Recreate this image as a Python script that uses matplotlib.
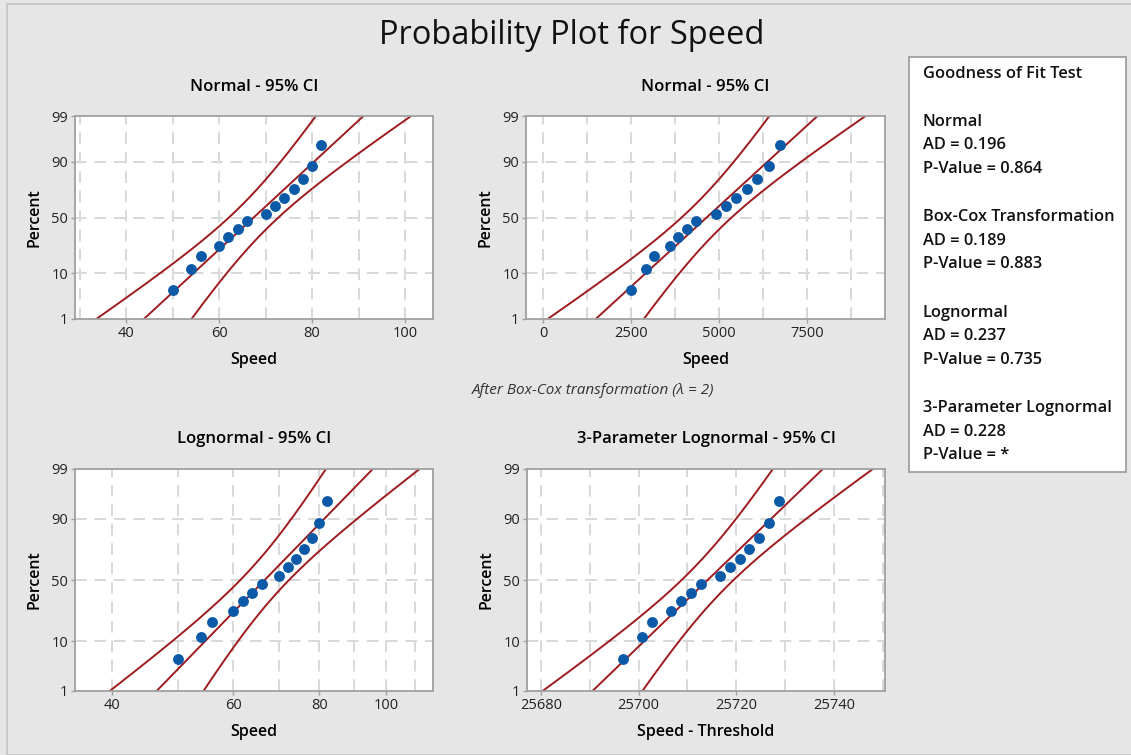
import matplotlib
matplotlib.use("Agg")
import matplotlib.pyplot as plt
import matplotlib.patches as patches
import numpy as np
from statistics import NormalDist

# valors llegits del grafic
speed = [50, 54, 56, 60, 62, 64, 66, 70, 72, 74, 76, 78, 80, 82]
speed_boxcox = [2500, 2916, 3136, 3600, 3844, 4096, 4356, 4900, 5184, 5476, 5776, 6084, 6400, 6724]
speed_thr = [25696.7, 25700.7, 25702.7, 25706.7, 25708.7, 25710.7, 25712.7,
             25716.7, 25718.7, 25720.7, 25722.7, 25724.7, 25726.7, 25728.7]

pct_ticks = [1, 10, 50, 90, 99]
pct_grid = [10, 50, 90]

gof_names = ["Normal", "Box-Cox Transformation", "Lognormal", "3-Parameter Lognormal"]
gof_ad = ["0.196", "0.189", "0.237", "0.228"]
gof_p = ["0.864", "0.883", "0.735", "*"]

W, H = 1131, 755
BG = '#E6E6E6'
RED = '#9E1B1E'
BLUE = '#0B5AA8'
SPINE = '#A0A0A0'
FONT = 'Open Sans'

plt.rcParams['font.family'] = [FONT, 'DejaVu Sans']

fig = plt.figure(figsize=(W / 100, H / 100), dpi=100)
fig.patch.set_facecolor(BG)

# marc exterior
fig.patches.append(patches.Rectangle((7 / W, 0), 1, 1 - 4 / H, transform=fig.transFigure,
                                     fill=False, edgecolor='#C4C4C4', lw=1.2))

nd = NormalDist()
zlo, zhi = nd.inv_cdf(0.01), nd.inv_cdf(0.99)


def px_axes(l, t, r, b):
    return fig.add_axes([l / W, 1 - b / H, (r - l) / W, (b - t) / H])


def prob_panel(l, t, r, b, data, title, xlabel, xlim, xticks, xgrid,
               logfit=False, logscale=False, title_pad=18):
    ax = px_axes(l, t, r, b)
    ax.set_facecolor('white')
    x = np.array(data, dtype=float)
    n = len(x)
    pp = (np.arange(1, n + 1) - 0.3) / (n + 0.4)
    zp = np.array([nd.inv_cdf(p) for p in pp])

    fx = np.log(x) if logfit else x
    mu, s = fx.mean(), fx.std(ddof=1)
    zg = np.linspace(zlo, zhi, 300)
    mid = mu + zg * s
    hw = 1.96 * s / np.sqrt(n) * np.sqrt(1 + zg ** 2 / 2)
    back = np.exp if logfit else (lambda v: v)

    if logscale:
        ax.set_xscale('log')

    for g in xgrid:
        ax.axvline(g, color='#D8D8D8', lw=1.4, ls=(0, (6, 4)), zorder=0)
    for g in pct_grid:
        ax.axhline(nd.inv_cdf(g / 100), color='#D8D8D8', lw=1.4, ls=(0, (6, 4)), zorder=0)

    for curve in (mid, mid - hw, mid + hw):
        ax.plot(back(curve), zg, color=RED, lw=1.4, zorder=2)
    ax.plot(x, zp, 'o', color=BLUE, ms=6.8, mec=BLUE, zorder=3)

    ax.set_xlim(*xlim)
    ax.set_ylim(zlo, zhi)
    ax.set_yticks([nd.inv_cdf(p / 100) for p in pct_ticks])
    ax.set_yticklabels([str(p) for p in pct_ticks])
    ax.set_xticks(xticks)
    ax.set_xticks([], minor=True)
    ax.set_xticklabels([str(v) for v in xticks])
    for sp in ax.spines.values():
        sp.set_color(SPINE)
        sp.set_linewidth(1.3)
    ax.tick_params(length=3, width=1, color=SPINE, labelsize=10.5, labelcolor='#222222', pad=2)
    ax.set_title(title, fontsize=12, fontweight='semibold', pad=title_pad)
    ax.set_xlabel(xlabel, fontsize=11.5, fontweight='semibold', labelpad=8)
    ax.set_ylabel('Percent', fontsize=11.5, fontweight='semibold', labelpad=6)
    return ax


prob_panel(75, 116, 433, 319, speed, 'Normal - 95% CI', 'Speed',
           (29.0, 106.0), [40, 60, 80, 100], np.arange(30, 110, 10))

prob_panel(526, 116, 885, 319, speed_boxcox, 'Normal - 95% CI', 'Speed',
           (-483, 9706), [0, 2500, 5000, 7500], np.arange(0, 9000, 1250))

prob_panel(75, 469, 433, 691, speed, 'Lognormal - 95% CI', 'Speed',
           (35.4, 117.0), [40, 60, 80, 100], np.arange(40, 120, 10),
           logfit=True, logscale=True, title_pad=19)

prob_panel(527, 469, 885, 691, speed_thr, '3-Parameter Lognormal - 95% CI', 'Speed - Threshold',
           (25677.1, 25750.5), [25680, 25700, 25720, 25740], np.arange(25680, 25760, 10),
           logfit=True, title_pad=19)

fig.text(572 / W, 1 - 35 / H, 'Probability Plot for Speed', fontsize=23.5,
         ha='center', va='center', color='#111111')
fig.text(593 / W, 1 - 390 / H, 'After Box-Cox transformation (\u03bb = 2)', fontsize=11,
         style='italic', ha='center', va='center', color='#333333')

# caixa de bondat d'ajust
fig.patches.append(patches.Rectangle((909 / W, 1 - 472 / H), (1126 - 909) / W, (472 - 57) / H,
                                     transform=fig.transFigure, facecolor='white',
                                     edgecolor=SPINE, lw=1.3))
lines = [('Goodness of Fit Test', 74)]
y0 = 121.7
for i, name in enumerate(gof_names):
    yy = y0 + i * 95.5
    lines.append((name, yy))
    lines.append(('AD = ' + gof_ad[i], yy + 23.5))
    lines.append(('P-Value = ' + gof_p[i], yy + 47))
for txt, yy in lines:
    fig.text(923 / W, 1 - yy / H, txt, fontsize=11.8, fontweight='semibold',
             ha='left', va='center', color='#111111')

fig.savefig('out.png', dpi=100, facecolor=BG)
